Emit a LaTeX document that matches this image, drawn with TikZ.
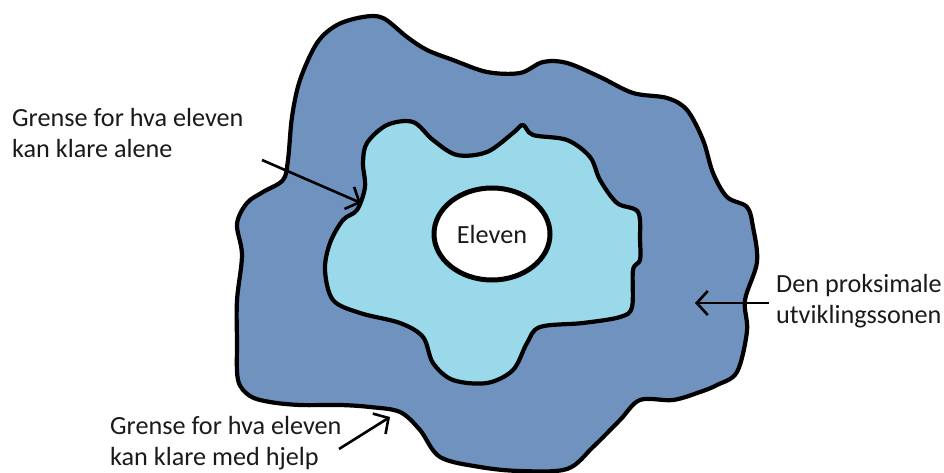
\documentclass[tikz,border=0pt]{standalone}
\usepackage{fontspec}
\setmainfont{Carlito}
\usetikzlibrary{arrows.meta}
\definecolor{zoneblue}{HTML}{7092BE}
\definecolor{selfblue}{HTML}{99D9EA}
\definecolor{inktext}{HTML}{1A1A1A}
\tikzset{
  blobline/.style={line width=4.2pt, line join=round},
  label/.style={font=\fontsize{26.2}{31}\selectfont, text=inktext, align=left, inner sep=0pt, anchor=base west},
  pointer/.style={line width=2.6pt, -{Straight Barb[length=11pt,width=24pt,line width=2.6pt]}}
}
\begin{document}
\begin{tikzpicture}[x=1pt,y=-1pt]
\useasboundingbox (0,0) rectangle (944,473);
% outer zone
\draw[blobline, fill=zoneblue] plot[smooth cycle, tension=0.55] coordinates {
(337,25) (363,17) (383,18) (407,37) (427,50) (453,60) (487,72) (520,73) (543,62) (567,63)
(600,77) (633,93) (667,98) (687,110) (703,140) (713,173) (727,197) (747,207) (753,227)
(757,262) (745,300) (747,331) (737,372) (717,385) (700,392) (673,400) (640,400) (620,420)
(593,447) (567,469) (520,471) (480,467) (440,457) (420,430) (400,412) (370,407) (340,405)
(300,405) (270,402) (250,396) (238,380) (237,340) (237,300) (242,255) (237,224) (247,203)
(263,192) (283,180) (288,160) (292,117) (300,80) (317,43)};
% inner zone
\draw[blobline, fill=selfblue] plot[smooth cycle, tension=0.55] coordinates {
(367,143) (387,125) (413,122) (433,140) (457,155) (487,152) (513,133) (523,125) (533,135)
(567,140) (590,157) (600,180) (617,203) (638,212) (640,240) (640,260) (633,270) (632,307)
(620,317) (583,323) (540,327) (527,343) (513,370) (487,383) (453,380) (433,363) (423,337)
(400,323) (360,313) (333,300) (325,270) (330,243) (343,220) (357,210) (365,187) (363,163)};
% the pupil
\draw[line width=5pt, fill=white] (492,234) ellipse [x radius=58, y radius=46];
\node[font=\fontsize{26.2}{31}\selectfont, text=inktext, inner sep=0pt] (elev) at (492,234) {Eleven};
% labels (base anchor = baseline of the last line)
\node[label] (alone) at (12,158) {Grense for hva eleven\\kan klare alene};
\node[label] (zpd) at (776,323) {Den proksimale\\utviklingssonen};
\node[label] (help) at (110,465) {Grense for hva eleven\\kan klare med hjelp};
% arrow ends
\coordinate (a1s) at (262,160);
\coordinate (a1e) at (361,203);
\coordinate (a2s) at (769,303);
\coordinate (a2e) at (695,303);
\coordinate (a3s) at (339,449);
\coordinate (a3e) at (390,417);
\draw[pointer] (a1s) -- (a1e);
\draw[pointer] (a2s) -- (a2e);
\draw[pointer] (a3s) -- (a3e);
\end{tikzpicture}
\end{document}
